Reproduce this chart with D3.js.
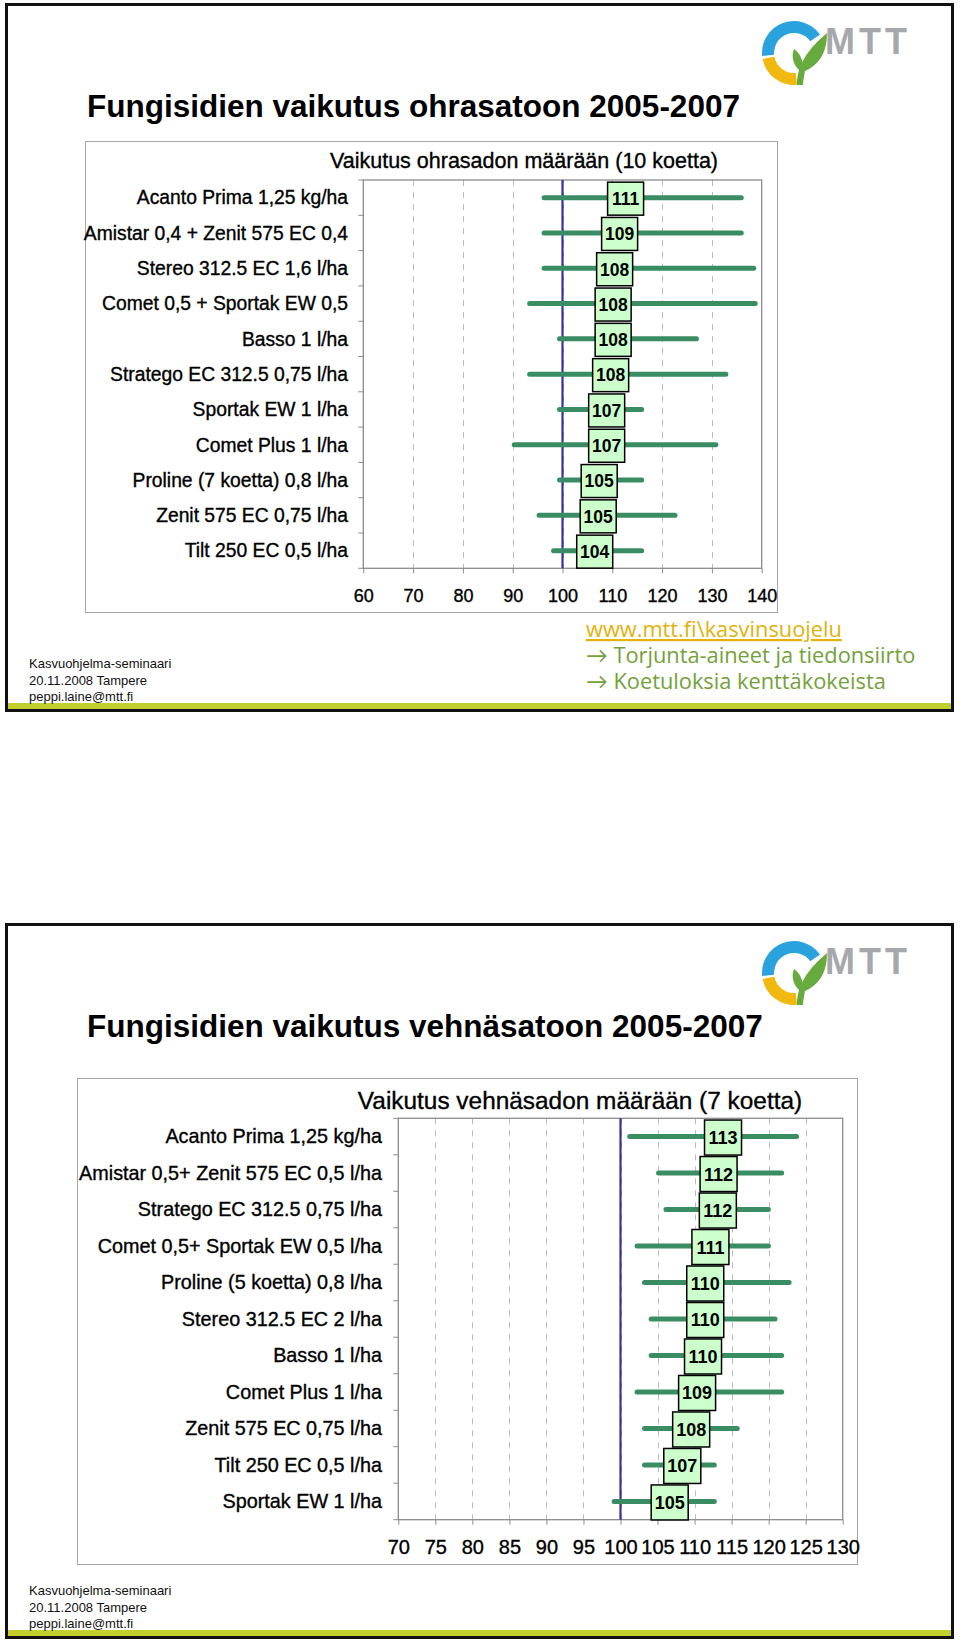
<!DOCTYPE html>
<html>
<head>
<meta charset="utf-8">
<script src="https://cdnjs.cloudflare.com/ajax/libs/d3/7.8.5/d3.min.js"></script>
<style>
  html, body { margin: 0; padding: 0; background: #ffffff; }
  svg { display: block; }
</style>
</head>
<body>
<script>
// ---------------- DATA ----------------
// Barley (ohra), 10 trials
const barleyCategories = [
  "Acanto Prima 1,25 kg/ha",
  "Amistar 0,4 + Zenit 575 EC 0,4",
  "Stereo 312.5 EC 1,6 l/ha",
  "Comet 0,5 + Sportak EW 0,5",
  "Basso 1 l/ha",
  "Stratego EC 312.5 0,75 l/ha",
  "Sportak EW 1 l/ha",
  "Comet Plus 1 l/ha",
  "Proline (7 koetta) 0,8 l/ha",
  "Zenit 575 EC 0,75 l/ha",
  "Tilt 250 EC 0,5 l/ha"
];
const barleyMeans = [110.6, 109.4, 108.4, 108.1, 108.1, 107.6, 106.8, 106.8, 105.3, 105.1, 104.4];
const barleyLow   = [95.8, 95.8, 95.8, 92.9, 98.9, 92.9, 98.9, 89.8, 98.9, 94.8, 97.7];
const barleyHigh  = [136.4, 136.4, 138.9, 139.2, 127.4, 133.3, 116.4, 131.3, 116.4, 123.1, 116.4];
const barleyTicks = [60, 70, 80, 90, 100, 110, 120, 130, 140];

// Wheat (vehnä), 7 trials
const wheatCategories = [
  "Acanto Prima 1,25 kg/ha",
  "Amistar 0,5+ Zenit 575 EC 0,5 l/ha",
  "Stratego EC 312.5 0,75 l/ha",
  "Comet 0,5+ Sportak EW 0,5 l/ha",
  "Proline (5 koetta) 0,8 l/ha",
  "Stereo 312.5 EC 2 l/ha",
  "Basso 1 l/ha",
  "Comet Plus 1 l/ha",
  "Zenit 575 EC 0,75 l/ha",
  "Tilt 250 EC 0,5 l/ha",
  "Sportak EW 1 l/ha"
];
const wheatMeans = [112.6, 112.0, 111.9, 110.9, 110.2, 110.2, 109.9, 109.1, 108.3, 107.1, 105.4];
const wheatLow   = [100.9, 104.8, 105.8, 101.9, 102.9, 103.8, 103.8, 101.9, 102.9, 102.9, 98.8];
const wheatHigh  = [124.1, 122.1, 120.3, 120.3, 123.1, 121.2, 122.1, 122.1, 116.1, 113.0, 113.0];
const wheatTicks = [70, 75, 80, 85, 90, 95, 100, 105, 110, 115, 120, 125, 130];

const referenceValue = 100;

const slideTitles = ["Fungisidien vaikutus ohrasatoon 2005-2007", "Fungisidien vaikutus vehnäsatoon 2005-2007"];
const chartTitles = ["Vaikutus ohrasadon määrään (10 koetta)", "Vaikutus vehnäsadon määrään (7 koetta)"];
const footerLines = ["Kasvuohjelma-seminaari", "20.11.2008 Tampere", "peppi.laine@mtt.fi"];
const linkLines = ["www.mtt.fi\\kasvinsuojelu", "\u2192 Torjunta-aineet ja tiedonsiirto", "\u2192 Koetuloksia kenttäkokeista"];

// ---------------- STYLE ----------------
const FONT = "'Liberation Sans', Arial, Helvetica, sans-serif";
const BAR_COLOR = "#3a8d63";
const REF_COLOR = "#333399";
const BOX_FILL = "#ccffcc";
const TEXT_STROKE = 0.35;

const svg = d3.select("body").append("svg")
  .attr("width", 960).attr("height", 1641)
  .attr("viewBox", "0 0 960 1641");

// ---------------- SLIDE FRAME ----------------
function drawLogo(g, cx, cy) {
  const arc = d3.arc().innerRadius(20).outerRadius(32);
  const lg = g.append("g").attr("transform", `translate(${cx},${cy})`);
  lg.append("path").attr("d", arc({startAngle: 4.62, endAngle: 2 * Math.PI + 0.95})).attr("fill", "#2aa2dd");
  lg.append("path").attr("d", arc({startAngle: 3.05, endAngle: 4.52})).attr("fill", "#f1b80e");
  // green leaves
  lg.append("path")
    .attr("d", "M 3 32 C 3 12, 14 -4, 33 -20 C 33 0, 25 12, 11 18 C 10 24, 9 28, 9 32 Z")
    .attr("fill", "#67aa3d");
  lg.append("path")
    .attr("d", "M 6 18 C -1 12, -3 3, 0 -4 C 7 1, 10 9, 8 18 Z")
    .attr("fill", "#67aa3d");
  g.append("text")
    .attr("x", cx + 31).attr("y", cy + 1)
    .attr("font-family", FONT).attr("font-weight", "bold")
    .attr("font-size", 36).attr("letter-spacing", 4)
    .attr("fill", "#a6a8ab")
    .text("MTT");
}

function drawSlide(top, bottom, idx) {
  const g = svg.append("g");
  // lime stripe at bottom
  g.append("rect")
    .attr("x", 8).attr("y", bottom - 9).attr("width", 945).attr("height", 6)
    .attr("fill", "#c3cf2c");
  // frame
  g.append("rect")
    .attr("x", 6.5).attr("y", top + 1.5)
    .attr("width", 946).attr("height", bottom - top - 3)
    .attr("fill", "none").attr("stroke", "#111").attr("stroke-width", 3);
  drawLogo(g, 794, top + 50);
  g.append("text")
    .attr("x", 87).attr("y", top + 114)
    .attr("font-family", FONT).attr("font-weight", "bold").attr("font-size", 31.5)
    .attr("fill", "#000")
    .text(slideTitles[idx]);
  footerLines.forEach((t, i) => {
    g.append("text")
      .attr("x", 29).attr("y", bottom - 44 + i * 16.5)
      .attr("font-family", FONT).attr("font-size", 13).attr("fill", "#111")
      .text(t);
  });
  return g;
}

const slide1 = drawSlide(3, 712, 0);
const slide2 = drawSlide(923, 1639, 1);

// links on first slide
linkLines.forEach((t, i) => {
  const txt = slide1.append("text")
    .attr("x", 586).attr("y", 637 + i * 26)
    .attr("font-family", "'Open Sans', Lato, sans-serif")
    .attr("font-size", 21.8)
    .attr("fill", i === 0 ? "#e2b20a" : "#73a13a")
    .text(t);
  if (i === 0) txt.attr("text-decoration", "underline");
});

// ---------------- CHART ----------------
function drawChart(cfg) {
  const g = svg.append("g");
  const { categories, means, low, high, ticks } = cfg;

  // outer chart box
  g.append("rect")
    .attr("x", cfg.box[0] + 0.5).attr("y", cfg.box[1] + 0.5)
    .attr("width", cfg.box[2]).attr("height", cfg.box[3])
    .attr("fill", "#fff").attr("stroke", "#a6a6a6").attr("stroke-width", 1);

  const x = d3.scaleLinear().domain([ticks[0], ticks[ticks.length - 1]]).range([cfg.plot[0], cfg.plot[1]]);
  const y = d3.scaleBand().domain(categories).range([cfg.plot[2], cfg.plot[3]]).padding(0);

  // chart title
  g.append("text")
    .attr("x", cfg.titleX).attr("y", cfg.titleY)
    .attr("text-anchor", "middle")
    .attr("font-family", FONT).attr("font-size", cfg.titleSize).attr("fill", "#000")
    .attr("stroke", "#000").attr("stroke-width", TEXT_STROKE)
    .text(cfg.title);

  // dashed grid lines
  g.append("g").selectAll("line")
    .data(ticks.slice(1, -1))
    .join("line")
    .attr("x1", d => Math.round(x(d)) + 0.5).attr("x2", d => Math.round(x(d)) + 0.5)
    .attr("y1", cfg.plot[2]).attr("y2", cfg.plot[3])
    .attr("stroke", "#bdbdbd").attr("stroke-width", 1)
    .attr("stroke-dasharray", "6,6");

  // plot border
  g.append("rect")
    .attr("x", cfg.plot[0]).attr("y", cfg.plot[2])
    .attr("width", cfg.plot[1] - cfg.plot[0]).attr("height", cfg.plot[3] - cfg.plot[2])
    .attr("fill", "none").attr("stroke", "#8c8c8c").attr("stroke-width", 1.3);

  // x axis
  const xAxis = d3.axisBottom(x).tickValues(ticks).tickSize(5).tickSizeOuter(0)
    .tickPadding(cfg.tickPad).tickFormat(d3.format("d"));
  const ax = g.append("g").attr("transform", `translate(0,${cfg.plot[3]})`).call(xAxis);
  ax.select(".domain").remove();
  ax.selectAll(".tick line").attr("stroke", "#8c8c8c");
  ax.selectAll(".tick text")
    .attr("font-family", FONT).attr("font-size", cfg.tickSize).attr("fill", "#000")
    .attr("stroke", "#000").attr("stroke-width", TEXT_STROKE);

  // category axis ticks at band boundaries
  const bounds = categories.map(c => y(c)).concat([cfg.plot[3]]);
  g.append("g").selectAll("line")
    .data(bounds)
    .join("line")
    .attr("x1", cfg.plot[0] - 5).attr("x2", cfg.plot[0])
    .attr("y1", d => d).attr("y2", d => d)
    .attr("stroke", "#8c8c8c").attr("stroke-width", 1);

  // category labels
  g.append("g").selectAll("text")
    .data(categories)
    .join("text")
    .attr("x", cfg.labelRight)
    .attr("y", d => y(d) + y.bandwidth() / 2)
    .attr("dy", "0.35em")
    .attr("text-anchor", "end")
    .attr("font-family", FONT).attr("font-size", cfg.labelSize).attr("fill", "#000")
    .attr("stroke", "#000").attr("stroke-width", TEXT_STROKE)
    .text(d => d);

  // reference line at 100
  g.append("line")
    .attr("x1", x(referenceValue)).attr("x2", x(referenceValue))
    .attr("y1", cfg.plot[2]).attr("y2", cfg.plot[3])
    .attr("stroke", REF_COLOR).attr("stroke-width", 2.2);

  const rows = categories.map((c, i) => ({ c, m: means[i], lo: low[i], hi: high[i] }));

  // range bars
  const barW = 5;
  g.append("g").selectAll("line")
    .data(rows)
    .join("line")
    .attr("x1", d => x(d.lo) + barW / 2).attr("x2", d => x(d.hi) - barW / 2)
    .attr("y1", d => y(d.c) + y.bandwidth() / 2).attr("y2", d => y(d.c) + y.bandwidth() / 2)
    .attr("stroke", BAR_COLOR).attr("stroke-width", barW).attr("stroke-linecap", "round");

  // value label boxes
  const lab = g.append("g").selectAll("g")
    .data(rows)
    .join("g")
    .attr("transform", d => `translate(${x(d.m) - cfg.labelOffset},${y(d.c) + y.bandwidth() / 2})`);
  lab.append("rect")
    .attr("x", 0).attr("y", -cfg.boxH / 2 + 1)
    .attr("width", cfg.boxW).attr("height", cfg.boxH)
    .attr("fill", BOX_FILL).attr("stroke", "#000").attr("stroke-width", 1.5);
  lab.append("text")
    .attr("x", cfg.boxW / 2).attr("y", 1)
    .attr("dy", "0.36em")
    .attr("text-anchor", "middle")
    .attr("font-family", FONT).attr("font-weight", "bold")
    .attr("font-size", cfg.numSize).attr("fill", "#000")
    .text(d => d3.format(".0f")(d.m));
}

drawChart({
  categories: barleyCategories, means: barleyMeans, low: barleyLow, high: barleyHigh, ticks: barleyTicks,
  box: [85, 141, 692, 471],
  plot: [363.3, 761.7, 180, 568.3],
  title: chartTitles[0], titleX: 524, titleY: 167.5, titleSize: 21.5,
  labelRight: 348, labelSize: 19.3,
  tickSize: 18, tickPad: 15.5,
  boxW: 36, boxH: 33, numSize: 17.5, labelOffset: 7.7
});

drawChart({
  categories: wheatCategories, means: wheatMeans, low: wheatLow, high: wheatHigh, ticks: wheatTicks,
  box: [77, 1078, 780, 486],
  plot: [398.3, 842.7, 1118.3, 1519.7],
  title: chartTitles[1], titleX: 580, titleY: 1108.5, titleSize: 24.4,
  labelRight: 382, labelSize: 19.8,
  tickSize: 20, tickPad: 15.3,
  boxW: 37, boxH: 35, numSize: 18, labelOffset: 9.3
});
</script>
</body>
</html>
